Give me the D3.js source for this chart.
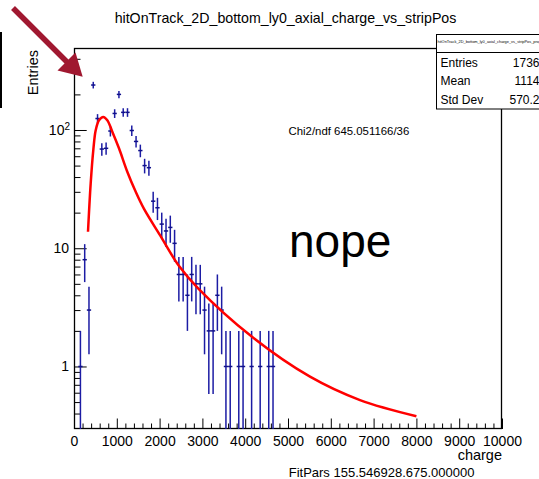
<!DOCTYPE html>
<html>
<head>
<meta charset="utf-8">
<script src="https://d3js.org/d3.v7.min.js"></script>
<style>
  body { margin: 0; background: #fff; }
  svg { display: block; font-family: "Liberation Sans", Arial, Helvetica, sans-serif; }
  .axis text { font-size: 14px; fill: #000; }
  .axis line { stroke: #000; stroke-width: 1; }
</style>
</head>
<body>
<div id="chart"></div>
<script>
// histogram bins (charge bin centre) and entries
var binCentre = [150, 250, 350, 450, 550, 650, 750, 850, 950, 1050, 1150, 1250, 1350, 1450,
                 1550, 1650, 1750, 1850, 1950, 2050, 2150, 2250, 2350, 2450, 2550, 2650, 2750,
                 2850, 2950, 3050, 3150, 3250, 3350, 3450, 3550, 3650, 3850, 3950, 4150, 4350,
                 4550, 4650];
var entries = [1, 8, 3, 240, 125, 69, 70, 98, 138, 200, 141, 141, 99, 80,
               67, 50, 48, 25, 22, 16, 14, 15, 11, 6, 6, 4, 6,
               5, 5, 3, 2, 2, 4, 3, 1, 1, 1, 1, 1, 1,
               1, 1];
var binWidth = 100;

// fit curve
var fitCharge = [327, 390, 451, 507, 584, 685, 778, 895, 1051, 1245, 1442, 1636, 2009,
                 2450, 2900, 4152, 5514, 6682, 8000];
var fitValue = [13.8, 35.4, 67.7, 99.4, 121, 129, 121, 96.8, 70, 44.4, 30, 21.5, 12.9,
                7.1, 4.58, 1.79, 0.82, 0.52, 0.38];

var xMajor = [0, 1000, 2000, 3000, 4000, 5000, 6000, 7000, 8000, 9000, 10000];
var yMajor = [1, 10, 100];
var yMinor = [0.4, 0.5, 0.6, 0.7, 0.8, 0.9, 2, 3, 4, 5, 6, 7, 8, 9,
              20, 30, 40, 50, 60, 70, 80, 90, 200, 300, 400];

var statNames = ["Entries", "Mean", "Std Dev"];
var statValues = ["1736", "1114", "570.2"];

var W = 539, H = 479;
var fLeft = 74, fRight = 502, fTop = 48, fBottom = 429;

var svg = d3.select("#chart").append("svg")
    .attr("width", W)
    .attr("height", H);

var x = d3.scaleLinear().domain([0, 10000]).range([fLeft, fRight]);
var y = d3.scaleLog().domain([0.296, 493.6]).range([fBottom, fTop]);

svg.append("defs").append("clipPath").attr("id", "frameClip")
    .append("rect")
    .attr("x", fLeft).attr("y", fTop)
    .attr("width", fRight - fLeft).attr("height", fBottom - fTop);

// title
svg.append("text")
    .attr("x", 285.5).attr("y", 23)
    .attr("text-anchor", "middle")
    .style("font-size", "14.2px")
    .text("hitOnTrack_2D_bottom_ly0_axial_charge_vs_stripPos");

// x axis: minor then major ticks
var minorX = d3.range(0, 10001, 200).filter(function(v) { return v % 1000 != 0 });
svg.append("g").attr("class", "axis")
    .attr("transform", "translate(0," + fBottom + ")")
    .call(d3.axisBottom(x).tickValues(minorX).tickSize(-5.5).tickFormat(""))
    .select(".domain").remove();
svg.append("g").attr("class", "axis")
    .attr("transform", "translate(0," + fBottom + ")")
    .call(d3.axisBottom(x).tickValues(xMajor).tickSize(-10.5).tickPadding(7).tickFormat(d3.format("d")))
    .select(".domain").remove();

// y axis
svg.append("g").attr("class", "axis")
    .attr("transform", "translate(" + fLeft + ",0)")
    .call(d3.axisLeft(y).tickValues(yMinor).tickSize(-6.5).tickFormat(""))
    .select(".domain").remove();
var yAx = svg.append("g").attr("class", "axis")
    .attr("transform", "translate(" + fLeft + ",0)")
    .call(d3.axisLeft(y).tickValues(yMajor).tickSize(-12.7).tickPadding(5).tickFormat(""));
yAx.select(".domain").remove();
yAx.selectAll(".tick text").each(function(d) {
    var t = d3.select(this);
    if (d == 100) {
        t.attr("x", -4);
        t.append("tspan").text("10");
        t.append("tspan").attr("dy", "-0.45em").style("font-size", "10px").text("2");
    } else {
        t.attr("x", -5);
        t.text(d);
    }
});

// frame
svg.append("rect")
    .attr("x", fLeft + 0.5).attr("y", fTop + 0.5)
    .attr("width", fRight - fLeft - 1).attr("height", fBottom - fTop - 1)
    .attr("fill", "none").attr("stroke", "#000").attr("stroke-width", 1.3);

// axis titles
svg.append("text")
    .attr("transform", "translate(38.3,50) rotate(-90)")
    .attr("text-anchor", "end")
    .style("font-size", "14.5px")
    .text("Entries");
svg.append("text")
    .attr("x", fRight).attr("y", 460)
    .attr("text-anchor", "end")
    .style("font-size", "14.5px")
    .text("charge");

// data points with error bars
var plot = svg.append("g").attr("clip-path", "url(#frameClip)");
var yLow = y.domain()[0];
var pts = plot.selectAll("g.pt")
    .data(binCentre.map(function(c, i) { return {c: c, n: entries[i]} }))
    .enter().append("g").attr("class", "pt");
pts.append("line")
    .attr("x1", function(d) { return x(d.c) }).attr("x2", function(d) { return x(d.c) })
    .attr("y1", function(d) { return y(d.n + Math.sqrt(d.n)) })
    .attr("y2", function(d) { return y(Math.max(d.n - Math.sqrt(d.n), yLow * 0.5)) })
    .attr("stroke", "#1c1ca4").attr("stroke-width", 1.5);
pts.append("line")
    .attr("x1", function(d) { return x(d.c - binWidth / 2) })
    .attr("x2", function(d) { return x(d.c + binWidth / 2) })
    .attr("y1", function(d) { return y(d.n) }).attr("y2", function(d) { return y(d.n) })
    .attr("stroke", "#10108a").attr("stroke-width", 1.5);

// fit curve
var fitLine = d3.line()
    .x(function(d) { return x(d[0]) })
    .y(function(d) { return y(d[1]) })
    .curve(d3.curveCatmullRom.alpha(0.5));
plot.append("path")
    .datum(fitCharge.map(function(c, i) { return [c, fitValue[i]] }))
    .attr("d", fitLine)
    .attr("fill", "none").attr("stroke", "#ff0000").attr("stroke-width", 2.5);

// annotations
svg.append("text")
    .attr("x", 288.5).attr("y", 135)
    .style("font-size", "11.4px")
    .text("Chi2/ndf 645.051166/36");
svg.append("text")
    .attr("x", 289).attr("y", 257)
    .style("font-size", "46px")
    .text("nope");
svg.append("text")
    .attr("x", 288.7).attr("y", 476.5)
    .style("font-size", "13px")
    .text("FitPars 155.546928.675.000000");

// stats box
var stats = svg.append("g");
stats.append("rect")
    .attr("x", 436.5).attr("y", 34.5).attr("width", 120).attr("height", 74.5)
    .attr("fill", "#fff").attr("stroke", "#000").attr("stroke-width", 1);
stats.append("line")
    .attr("x1", 436.5).attr("x2", 556).attr("y1", 52.5).attr("y2", 52.5)
    .attr("stroke", "#000").attr("stroke-width", 1);
stats.append("text")
    .attr("x", 437.5).attr("y", 42.5)
    .style("font-size", "3.9px")
    .text("hitOnTrack_2D_bottom_ly0_axial_charge_vs_stripPos_proj");
statNames.forEach(function(s, i) {
    stats.append("text")
        .attr("x", 440.5).attr("y", 66.5 + i * 18.8)
        .style("font-size", "12px")
        .text(s);
    stats.append("text")
        .attr("x", 539.5).attr("y", 66.5 + i * 18.8)
        .attr("text-anchor", "end")
        .style("font-size", "12px")
        .text(statValues[i]);
});

// left edge bar
svg.append("rect")
    .attr("x", 0).attr("y", 32).attr("width", 2).attr("height", 76)
    .attr("fill", "#000");

// red arrow
var arrowCol = "#a01830";
svg.append("line")
    .attr("x1", 13).attr("y1", 8).attr("x2", 70).attr("y2", 65)
    .attr("stroke", arrowCol).attr("stroke-width", 5.5);
svg.append("polygon")
    .attr("points", "82.7,76.7 57.5,70.5 75.5,52.5")
    .attr("fill", arrowCol);
</script>
</body>
</html>
